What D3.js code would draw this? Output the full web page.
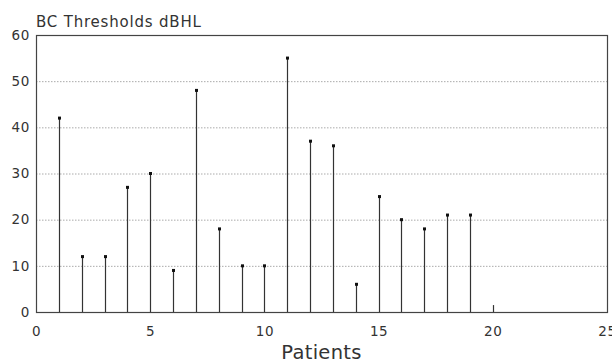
<!DOCTYPE html>
<html>
<head>
<meta charset="utf-8">
<script src="https://cdn.jsdelivr.net/npm/d3@7"></script>
<style>
  body { margin: 0; background: #fff; }
  text { font-family: "DejaVu Sans", sans-serif; fill: #333; }
</style>
</head>
<body>
<script>
// patients 1..20 and their bone conduction thresholds
const patients = [1, 2, 3, 4, 5, 6, 7, 8, 9, 10, 11, 12, 13, 14, 15, 16, 17, 18, 19, 20];
const thresholds = [42, 12, 12, 27, 30, 9, 48, 18, 10, 10, 55, 37, 36, 6, 25, 20, 18, 21, 21, 1.5];
const xTicks = [0, 5, 10, 15, 20, 25];
const yTicks = [0, 10, 20, 30, 40, 50, 60];

const width = 612, height = 363;
const margin = {top: 35, right: 5, bottom: 51, left: 36};

const svg = d3.select("body").append("svg")
    .attr("width", width)
    .attr("height", height);

const x = d3.scaleLinear().domain([0, 25]).range([margin.left, width - margin.right]);
const y = d3.scaleLinear().domain([0, 60]).range([height - margin.bottom, margin.top]);

// dotted grid
svg.append("g")
    .attr("stroke", "#aaa")
    .attr("stroke-width", 1)
    .attr("stroke-dasharray", "1.5,1.5")
  .selectAll("line")
  .data(yTicks.filter(d => d > 0 && d < 60))
  .join("line")
    .attr("x1", x(0))
    .attr("x2", x(25))
    .attr("y1", d => y(d) + 0.5)
    .attr("y2", d => y(d) + 0.5);

// frame
svg.append("rect")
    .attr("x", x(0) + 0.5)
    .attr("y", y(60) + 0.5)
    .attr("width", x(25) - x(0))
    .attr("height", y(0) - y(60))
    .attr("fill", "none")
    .attr("stroke", "#444")
    .attr("stroke-width", 1.2);

const data = patients.map((p, i) => ({p, v: thresholds[i]}));

// stems
svg.append("g")
    .attr("stroke", "#333")
    .attr("stroke-width", 1.2)
  .selectAll("line")
  .data(data)
  .join("line")
    .attr("x1", d => Math.round(x(d.p)) + 0.5)
    .attr("x2", d => Math.round(x(d.p)) + 0.5)
    .attr("y1", y(0))
    .attr("y2", d => y(d.v));

// markers (the near-zero one has none)
svg.append("g")
    .attr("fill", "#111")
  .selectAll("rect")
  .data(data.filter(d => d.v >= 2))
  .join("rect")
    .attr("x", d => Math.round(x(d.p)) - 1)
    .attr("y", d => y(d.v) - 1.5)
    .attr("width", 3)
    .attr("height", 3);

// axes (labels only, no tick marks)
const xAxis = svg.append("g")
    .attr("transform", `translate(0,${y(0)})`)
    .call(d3.axisBottom(x).tickValues(xTicks).tickSize(0).tickPadding(14).tickFormat(d3.format("d")));
xAxis.select(".domain").remove();
xAxis.selectAll("text").attr("font-size", 13.5).attr("letter-spacing", 0.6).attr("font-family", "DejaVu Sans, sans-serif");

const yAxis = svg.append("g")
    .attr("transform", `translate(${x(0)},0)`)
    .call(d3.axisLeft(y).tickValues(yTicks).tickSize(0).tickPadding(6).tickFormat(d3.format("d")));
yAxis.select(".domain").remove();
yAxis.selectAll("text").attr("font-size", 13.5).attr("letter-spacing", 0.6).attr("font-family", "DejaVu Sans, sans-serif");

// title and x label
svg.append("text")
    .attr("x", x(0))
    .attr("y", 26.5)
    .attr("font-size", 15)
    .attr("letter-spacing", 0.8)
    .text("BC Thresholds dBHL");

svg.append("text")
    .attr("x", (x(0) + x(25)) / 2)
    .attr("y", 359)
    .attr("text-anchor", "middle")
    .attr("font-size", 19.5)
    .attr("letter-spacing", 0.3)
    .text("Patients");
</script>
</body>
</html>
